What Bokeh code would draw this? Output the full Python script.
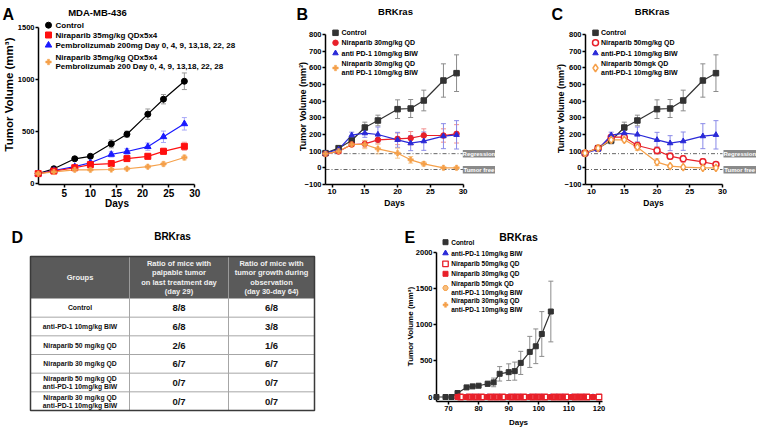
import math
from bokeh.plotting import figure
from bokeh.layouts import row, column
from bokeh.models import ColumnDataSource, Whisker, TeeHead, Range1d, FixedTicker
from bokeh.embed import file_html
from bokeh.resources import INLINE
from bokeh.core.properties import value

FONT = "Liberation Sans"

# ---------------- data ----------------
# Panel A : MDA-MB-436
a_days = [0, 3, 7, 10, 14, 17, 21, 24, 28]
a_control = [95, 142, 238, 262, 382, 475, 668, 812, 985]
a_control_sem = [8, 10, 14, 16, 38, 30, 50, 45, 80]
a_nira = [95, 120, 152, 182, 192, 240, 262, 310, 358]
a_nira_sem = [8, 10, 12, 15, 18, 25, 28, 30, 40]
a_pembro = [95, 125, 162, 200, 280, 308, 355, 450, 575]
a_pembro_sem = [8, 10, 12, 15, 25, 28, 35, 55, 60]
a_combo = [95, 112, 132, 132, 135, 142, 162, 188, 250]
a_combo_sem = [8, 8, 10, 10, 10, 12, 14, 18, 22]
a_labels = ["Control", "Niraparib 35mg/kg QDx5x4",
            "Pembrolizumab 200mg Day 0, 4, 9, 13,18, 22, 28",
            "Niraparib 35mg/kg QDx5x4\nPembrolizumab 200 Day 0, 4, 9, 13,18, 22, 28"]
a_xticks = [0, 5, 10, 15, 20, 25, 30]
a_yticks = [0, 500, 1000, 1500]

# Panels B and C : BRKras
bc_days = [9, 11, 13, 15, 17, 20, 22, 24, 27, 29]
bc_control = [88, 118, 164, 242, 284, 352, 356, 404, 524, 568]
bc_control_sem = [8, 10, 20, 32, 32, 56, 54, 62, 100, 110]
bc_pd1 = [88, 110, 196, 208, 200, 168, 148, 160, 190, 198]
bc_pd1_sem = [6, 8, 18, 25, 45, 45, 45, 55, 75, 85]
b_nira30 = [84, 98, 140, 144, 168, 174, 178, 194, 194, 204]
b_nira30_sem = [6, 8, 12, 20, 25, 35, 40, 40, 40, 55]
b_combo30 = [84, 100, 140, 140, 114, 88, 48, 24, 0, 0]
b_combo30_sem = [6, 8, 10, 25, 30, 30, 20, 12, 3, 3]
c_nira50 = [88, 118, 184, 184, 134, 104, 70, 54, 36, 20]
c_nira50_sem = [6, 8, 15, 15, 20, 22, 20, 20, 20, 15]
c_combo50 = [88, 118, 168, 168, 124, 34, 10, 4, 0, 0]
c_combo50_sem = [6, 8, 10, 12, 20, 20, 8, 5, 2, 2]
b_labels = ["Control", "Niraparib 30mg/kg QD", "anti PD-1 10mg/kg BIW",
            "Niraparib 30mg/kg QD\nanti PD-1 10mg/kg BIW"]
c_labels = ["Control", "Niraparib 50mg/kg QD", "anti-PD-1 10mg/kg BIW",
            "Niraparib 50mgk QD\nanti-PD-1 10mg/kg  BIW"]
bc_xticks = [10, 15, 20, 25, 30]
bc_yticks = [-100, 0, 100, 200, 300, 400, 500, 600, 700, 800]
regression_level = 85
tumor_free_level = -10

# Panel D : table
d_header = ["Groups",
            "Ratio of mice with\npalpable tumor\non last treatment day\n(day 29)",
            "Ratio of mice with\ntumor growth during\nobservation\n(day 30-day 64)"]
d_groups = ["Control", "anti-PD-1 10mg/kg BIW", "Niraparib 50 mg/kg QD",
            "Niraparib 30 mg/kg QD",
            "Niraparib 50 mg/kg QD\nanti-PD-1 10mg/kg BIW",
            "Niraparib 30 mg/kg QD\nanti-PD-1 10mg/kg BIW"]
d_palpable = ["8/8", "6/8", "2/6", "6/7", "0/7", "0/7"]
d_growth = ["6/8", "3/8", "1/6", "6/7", "0/7", "0/7"]

# Panel E : BRKras long follow-up
e_control_days = [66, 69, 71, 73, 76, 78, 80, 83, 85, 87, 90, 92, 94, 97, 99, 101, 104]
e_control = [0, 0, 0, 55, 133, 147, 156, 183, 202, 321, 344, 358, 472, 624, 702, 872, 1183]
e_control_sem = [0, 0, 0, 8, 10, 12, 12, 35, 60, 100, 115, 125, 160, 215, 240, 310, 420]
e_treated_days = [73, 76, 78, 80, 83, 85, 87, 90, 92, 94, 97, 99, 101, 104, 106, 108, 111, 113, 115, 118]
e_n50_days = [74, 77, 79, 81, 84, 86, 88, 91, 93, 95, 98, 100, 102, 105, 107, 109, 112, 114, 116, 120]
e_pd1 = [0, 0, 0, 0, 0, 0, 0, 0, 0, 0, 0, 0, 0, 0, 0, 0, 0, 0, 0, 0]
e_nira50 = [0, 0, 0, 0, 0, 0, 0, 0, 0, 0, 0, 0, 0, 0, 0, 0, 0, 0, 0, 0]
e_nira30 = [0, 0, 0, 0, 0, 0, 0, 0, 0, 0, 0, 0, 0, 0, 0, 0, 0, 0, 0, 0]
e_combo50 = [0, 0, 0, 0, 0, 0, 0, 0, 0, 0, 0, 0, 0, 0, 0, 0, 0, 0, 0, 0]
e_combo30 = [0, 0, 0, 0, 0, 0, 0, 0, 0, 0, 0, 0, 0, 0, 0, 0, 0, 0, 0, 0]
e_labels = ["Control", "anti-PD-1 10mg/kg BIW", "Niraparib 50mg/kg QD",
            "Niraparib 30mg/kg QD", "Niraparib 50mgk QD\nanti-PD-1 10mg/kg BIW",
            "Niraparib 30mg/kg QD\nanti-PD-1 10mg/kg BIW"]
e_xticks = [70, 80, 90, 100, 110, 120]
e_yticks = [0, 500, 1000, 1500, 2000]

YLABEL = "Tumor Volume (mm³)"
XLABEL = "Days"


# ---------------- layout helpers (pixel positions of the 758x427 page) ----------------
def new_panel(box, frame, xcal, ycal, axes=True):
    bx0, by0, bx1, by1 = box
    L, T, R, B = frame
    xv1, xp1, xv2, xp2 = xcal
    yv1, yp1, yv2, yp2 = ycal
    kx = (xv2 - xv1) / (xp2 - xp1)
    ky = (yv2 - yv1) / (yp2 - yp1)

    def X(px):
        return xv1 + (px - xp1) * kx

    def Y(py):
        return yv1 + (py - yp1) * ky
    kw = {}
    if not axes:
        kw = dict(x_axis_location=None, y_axis_location=None)
    p = figure(width=bx1 - bx0, height=by1 - by0,
               x_range=Range1d(X(L), X(R)), y_range=Range1d(Y(B), Y(T)),
               min_border_left=L - bx0, min_border_right=bx1 - R,
               min_border_top=T - by0, min_border_bottom=by1 - B,
               output_backend="svg", toolbar_location=None, tools="", **kw)
    p.outline_line_color = None
    p.background_fill_color = "white"
    p.border_fill_color = "white"
    p.grid.visible = False
    return p, X, Y


def style_axes(p, xticks, yticks, xbounds, ybounds, xtick_fs, ytick_fs):
    p.xaxis.ticker = FixedTicker(ticks=xticks)
    p.yaxis.ticker = FixedTicker(ticks=yticks)
    p.xaxis.bounds = xbounds
    p.yaxis.bounds = ybounds
    for ax, tfs in ((p.xaxis[0], xtick_fs), (p.yaxis[0], ytick_fs)):
        ax.axis_line_width = 1.5
        ax.axis_line_color = "black"
        ax.major_tick_line_width = 1.5
        ax.major_tick_in = 0
        ax.major_tick_out = 3
        ax.minor_tick_line_color = None
        ax.major_label_text_font = FONT
        ax.major_label_text_font_style = "bold"
        ax.major_label_text_font_size = tfs
        ax.major_label_text_color = "black"
        ax.major_label_standoff = 1


def txt(p, x, y, text, size, align="left", baseline="middle", color="black", angle=0.0):
    p.text(x=[x], y=[y], text=[text], text_font=value(FONT), text_font_style="bold",
           text_font_size=size, text_align=align, text_baseline=baseline,
           text_color=color, angle=angle, level="overlay")


def add_series(p, x, y, err, color, err_color, style, lw=1.2):
    p.line(x, y, line_color=color, line_width=lw)
    src = ColumnDataSource(dict(base=x, upper=[a + b for a, b in zip(y, err)],
                                lower=[a - b for a, b in zip(y, err)]))
    p.add_layout(Whisker(source=src, base="base", upper="upper", lower="lower",
                         line_color=err_color, line_width=1,
                         upper_head=TeeHead(size=5, line_color=err_color, line_width=1),
                         lower_head=TeeHead(size=5, line_color=err_color, line_width=1)))
    p.scatter(x, y, level="overlay", **style)


def draw_legend(p, X, Y, labels, styles, mx, tx, line_ys, fs):
    for lab, st, ys in zip(labels, styles, line_ys):
        my = sum(ys) / len(ys)
        p.scatter([X(mx)], [Y(my)], level="overlay", **st)
        for ln, yy in zip(lab.split("\n"), ys):
            txt(p, X(tx), Y(yy), ln, fs)


def sty(marker, color, size, fill=None, lw=1.0):
    return dict(marker=marker, size=size, fill_color=fill if fill else color,
                line_color=color, line_width=lw)


BLACK = "#000000"
DARK = "#333333"
RED = "#e8202a"
BLUE = "#2a2ad8"
ORANGE = "#f5a04a"
HALF_PI = math.pi / 2

# ---------------- Panel A ----------------
pA, XA, YA = new_panel((0, 0, 250, 210), (38, 0, 250, 184),
                       (0, 37.7, 30, 194.3), (0, 183, 1500, 27.3))
style_axes(pA, a_xticks, a_yticks, (0, 30), (YA(184), 1500), "10px", "7.5px")
a_styles = [sty("circle", BLACK, 6), sty("square", "#ff1010", 6),
            sty("triangle", "#1a1aff", 6.5), sty("plus", ORANGE, 5.5, lw=0.5)]
add_series(pA, a_days, a_control, a_control_sem, BLACK, "#9a9a9a", a_styles[0])
add_series(pA, a_days, a_pembro, a_pembro_sem, "#1a1aff", "#a8a8f8", a_styles[2])
add_series(pA, a_days, a_nira, a_nira_sem, "#ff1010", "#f7a8a8", a_styles[1])
add_series(pA, a_days, a_combo, a_combo_sem, ORANGE, "#f9d0a0", a_styles[3])
draw_legend(pA, XA, YA, a_labels, a_styles, 48, 55,
            [[24.7], [34.5], [44.7], [57, 66]], "8px")
txt(pA, XA(97), YA(11.5), "MDA-MB-436", "9.5px", align="center", baseline="alphabetic")
txt(pA, XA(2), YA(13.5), "A", "16px", baseline="alphabetic")
txt(pA, XA(116.5), YA(203), XLABEL, "10px", align="center")
txt(pA, XA(8.5), YA(94), YLABEL, "11.5px", align="center", angle=HALF_PI)


# ---------------- Panels B, C ----------------
def brkras_panel(box, frame, xcal, nira, nira_sem, combo, combo_sem, nira_style, combo_style,
                 labels, letter, letter_x, title_x, mx, tx, box_x, ylab_x, ylab_y, xlab_x):
    p, X, Y = new_panel(box, frame, xcal, (-100, 184, 800, 34))
    style_axes(p, bc_xticks, bc_yticks, (9, 30), (-100, 800), "8px", "7.5px")
    p.segment(x0=[9, 9], y0=[regression_level, tumor_free_level], x1=[30, 30],
              y1=[regression_level, tumor_free_level], line_color="#666666",
              line_dash="4 2 1 2", line_width=1)
    styles = [sty("square", DARK, 5.5), nira_style, sty("triangle", BLUE, 5.5), combo_style]
    add_series(p, bc_days, bc_control, bc_control_sem, DARK, "#8c8c8c", styles[0])
    add_series(p, bc_days, nira, nira_sem, RED, "#f29090", nira_style)
    add_series(p, bc_days, bc_pd1, bc_pd1_sem, BLUE, "#8a8ae8", styles[2])
    add_series(p, bc_days, combo, combo_sem, ORANGE, "#f7c890", combo_style)
    draw_legend(p, X, Y, labels, styles, mx, tx, [[32.3], [42.3], [52.7], [63, 72]], "7px")
    txt(p, X(title_x), Y(11), "BRKras", "9.5px", align="center", baseline="alphabetic")
    txt(p, X(letter_x), Y(13.5), letter, "16px", baseline="alphabetic")
    txt(p, X(xlab_x), Y(202), XLABEL, "8.5px", align="center")
    txt(p, X(ylab_x), Y(ylab_y), YLABEL, "9px", align="center", angle=HALF_PI)
    for label, top, bot in (("Regression", 149.5, 157), ("Tumor free", 165.5, 173)):
        p.quad(left=[X(box_x[0])], right=[X(box_x[1])], top=[Y(top)], bottom=[Y(bot)],
               fill_color="#8a8a8a", line_color=None, level="overlay")
        txt(p, X((box_x[0] + box_x[1]) / 2), Y((top + bot) / 2), label, "6px",
            align="center", color="white")
    return p


pB = brkras_panel((250, 0, 505, 210), (325, 0, 505, 184), (9, 325, 30, 462.6),
                  b_nira30, b_nira30_sem, b_combo30, b_combo30_sem,
                  sty("circle", RED, 5.5), sty("plus", ORANGE, 5.5, lw=0.5),
                  b_labels, "B", 296, 395, 335, 341, (462.3, 494.5), 302, 106, 394)
pC = brkras_panel((505, 0, 758, 210), (585, 0, 758, 184), (9, 584.5, 30, 722),
                  c_nira50, c_nira50_sem, c_combo50, c_combo50_sem,
                  sty("circle", RED, 6, fill="white", lw=1.5),
                  sty("diamond", ORANGE, 7.5, fill="white", lw=1.5),
                  c_labels, "C", 551, 651.7, 595, 600.5, (723, 755.5), 560, 108, 653)

# ---------------- Panel D (table) ----------------
pD, XD, YD = new_panel((0, 210, 360, 427), (0, 210, 360, 401),
                       (0, 0, 360, 360), (210, 210, 427, 427), axes=False)
col_x = [30, 129, 228, 314]
t_top, t_head, t_bot = 256, 298, 410
row_h = (t_bot - t_head) / len(d_groups)
pD.quad(left=[col_x[0]], right=[col_x[-1]], top=[t_top], bottom=[t_head],
        fill_color="#5a5a5a", line_color=None, level="overlay")
pD.segment(x0=[col_x[1], col_x[2]], y0=[t_top, t_top], x1=[col_x[1], col_x[2]],
           y1=[t_head, t_head], line_color="#9a9a9a", line_width=1, level="overlay")
pD.segment(x0=[col_x[1], col_x[2]], y0=[t_head, t_head], x1=[col_x[1], col_x[2]],
           y1=[t_bot, t_bot], line_color="#a6a6a6", line_width=1, level="overlay")
ry = [t_head + (i + 1) * row_h for i in range(len(d_groups) - 1)]
pD.segment(x0=[col_x[0]] * len(ry), y0=ry, x1=[col_x[-1]] * len(ry), y1=ry,
           line_color="#a6a6a6", line_width=1, level="overlay")
pD.quad(left=[col_x[0]], right=[col_x[-1]], top=[t_top], bottom=[t_bot],
        fill_color=None, line_color="#3a3a3a", line_width=1.5, level="overlay")

hx, hy, ht = [], [], []
for j, h in enumerate(d_header):
    lines = h.split("\n")
    ccx = (col_x[j] + col_x[j + 1]) / 2
    cyy = (t_top + t_head) / 2
    for k, ln in enumerate(lines):
        hx.append(ccx)
        hy.append(cyy + (k - (len(lines) - 1) / 2) * 9.3)
        ht.append(ln)
pD.text(x=hx, y=hy, text=ht, text_align="center", text_baseline="middle",
        text_font=value(FONT), text_font_style="bold", text_font_size="7.5px",
        text_color="#f0f0f0", level="overlay")

gx, gy, gt = [], [], []
vx, vy, vt = [], [], []
for i, g in enumerate(d_groups):
    rc = t_head + (i + 0.5) * row_h
    lines = g.split("\n")
    for k, ln in enumerate(lines):
        gx.append((col_x[0] + col_x[1]) / 2)
        gy.append(rc + (k - (len(lines) - 1) / 2) * 8.3)
        gt.append(ln)
    for j, v in ((1, d_palpable[i]), (2, d_growth[i])):
        vx.append((col_x[j] + col_x[j + 1]) / 2)
        vy.append(rc)
        vt.append(v)
pD.text(x=gx, y=gy, text=gt, text_align="center", text_baseline="middle",
        text_font=value(FONT), text_font_style="bold", text_font_size="6.8px",
        text_color="#111111", level="overlay")
pD.text(x=vx, y=vy, text=vt, text_align="center", text_baseline="middle",
        text_font=value(FONT), text_font_style="bold", text_font_size="9.5px",
        text_color="#111111", level="overlay")
txt(pD, 11, 237.3, "D", "16px", baseline="alphabetic")
txt(pD, 172, 236, "BRKras", "10px", align="center", baseline="alphabetic")

# ---------------- Panel E ----------------
pE, XE, YE = new_panel((360, 210, 758, 427), (436, 210, 758, 401),
                       (70, 448, 120, 598.5), (0, 396.5, 2000, 252))
style_axes(pE, e_xticks, e_yticks, (XE(436), 121), (YE(401), 2000), "7.5px", "7.5px")
e_styles = [sty("square", DARK, 5), sty("triangle", BLUE, 5.5),
            sty("square", RED, 5.5, fill="white", lw=1.3), sty("square", RED, 5),
            sty("hex", ORANGE, 5.5, fill="#f8c080"), sty("plus", ORANGE, 5, lw=0.5)]
add_series(pE, e_treated_days, e_pd1, e_pd1, BLUE, "#8a8ae8", e_styles[1])
add_series(pE, e_treated_days, e_combo50, e_combo50, ORANGE, "#f7c890", e_styles[4])
add_series(pE, e_treated_days, e_combo30, e_combo30, ORANGE, "#f7c890", e_styles[5])
add_series(pE, e_control_days, e_control, e_control_sem, DARK, "#8c8c8c", e_styles[0])
add_series(pE, e_n50_days, e_nira50, e_nira50, RED, "#f29090", e_styles[2])
add_series(pE, e_treated_days, e_nira30, e_nira30, RED, "#f29090", e_styles[3])
draw_legend(pE, XE, YE, e_labels, e_styles, 445, 450.7,
            [[241.7], [252.7], [263.3], [273.3], [283.3, 291.7], [300, 308.7]], "6.5px")
txt(pE, XE(518), YE(236.7), "BRKras", "10.5px", align="center", baseline="alphabetic")
txt(pE, XE(404), YE(237.3), "E", "16px", baseline="alphabetic")
txt(pE, XE(518), YE(421.5), XLABEL, "8px", align="center")
txt(pE, XE(409.5), YE(326), YLABEL, "8px", align="center", angle=HALF_PI)

layout = column(row(pA, pB, pC), row(pD, pE))
open("out.html", "w").write(file_html(layout, INLINE))
